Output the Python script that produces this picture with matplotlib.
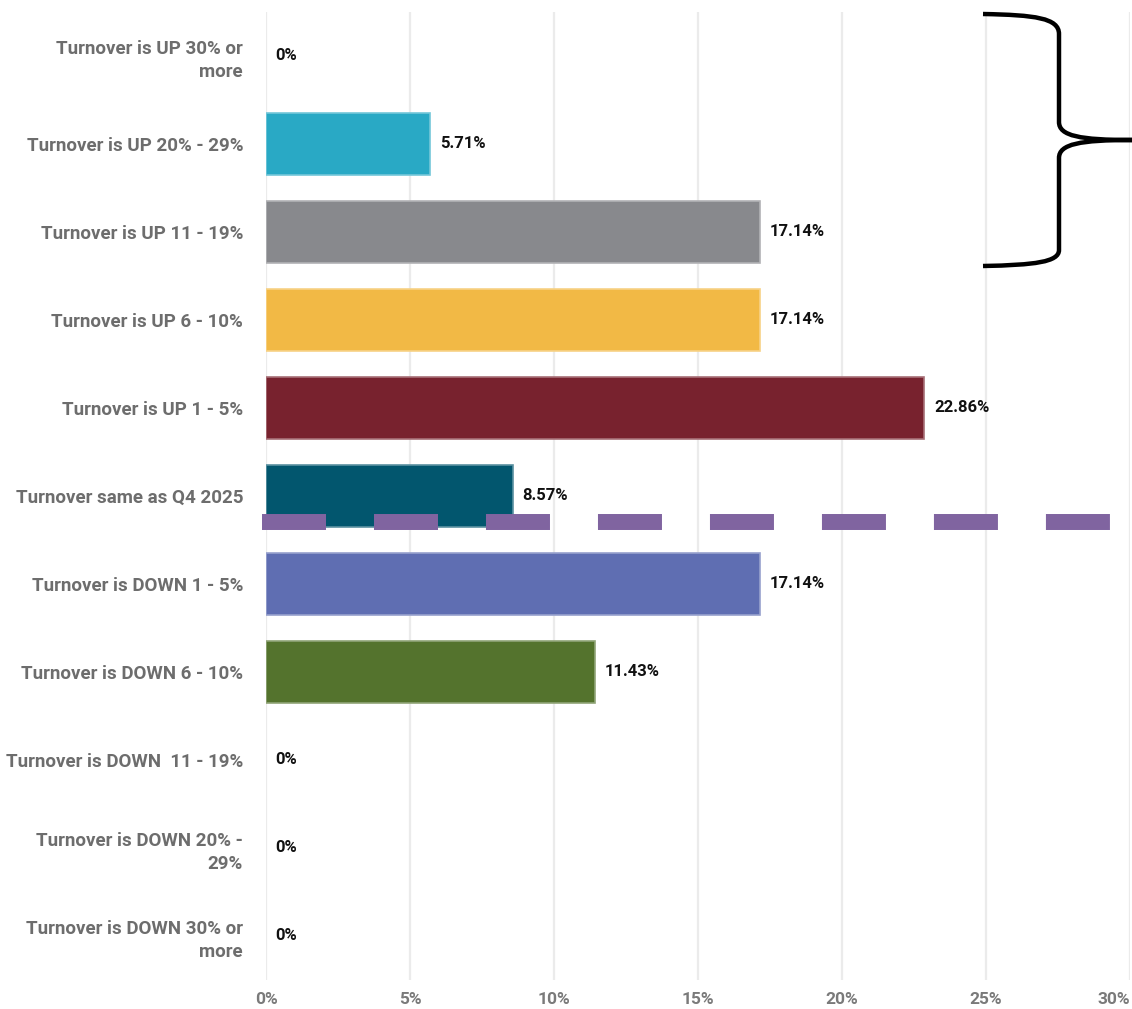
import matplotlib
matplotlib.use("Agg")
import matplotlib.pyplot as plt
from matplotlib.path import Path
from matplotlib.patches import PathPatch
import matplotlib.colors as mcolors

categories = [
    "Turnover is UP 30% or\nmore",
    "Turnover is UP 20% - 29%",
    "Turnover is UP 11 - 19%",
    "Turnover is UP 6 - 10%",
    "Turnover is UP 1 - 5%",
    "Turnover same as Q4 2025",
    "Turnover is DOWN 1 - 5%",
    "Turnover is DOWN 6 - 10%",
    "Turnover is DOWN  11 - 19%",
    "Turnover is DOWN 20% -\n29%",
    "Turnover is DOWN 30% or\nmore",
]
values = [0, 5.71, 17.14, 17.14, 22.86, 8.57, 17.14, 11.43, 0, 0, 0]
value_labels = ["0%", "5.71%", "17.14%", "17.14%", "22.86%", "8.57%", "17.14%", "11.43%", "0%", "0%", "0%"]
colors = ["#29a9c5", "#29a9c5", "#88898d", "#f2b945", "#78222e", "#02566e",
          "#5f6eb2", "#54732d", "#88898d", "#88898d", "#88898d"]
xticks = [0, 5, 10, 15, 20, 25, 30]
xtick_labels = ["0%", "5%", "10%", "15%", "20%", "25%", "30%"]

W, H = 1132, 1009
fig = plt.figure(figsize=(W / 100, H / 100), dpi=100)
ax = fig.add_axes([266 / W, 1 - 980 / H, (1130 - 266) / W, 968 / H])

FONT = "Roboto"


def lighten(c, f=0.35):
    r, g, b = mcolors.to_rgb(c)
    return (r + (1 - r) * f, g + (1 - g) * f, b + (1 - b) * f)


ypos = list(range(len(categories)))
edge = [lighten(c) if v > 0 else "none" for c, v in zip(colors, values)]
ax.barh(ypos, values, height=0.7, color=colors, edgecolor=edge, linewidth=1.2, zorder=3)
ax.set_ylim(len(categories) - 0.5, -0.5)
ax.set_xlim(0, 30)
ax.set_xticks(xticks)
ax.set_xticklabels(xtick_labels, fontsize=12.5, color="#7a7a7a", family=FONT, fontweight="bold")
ax.get_xticklabels()[-1].set_horizontalalignment("right")
ax.set_yticks(ypos)
ax.set_yticklabels(categories, fontsize=13.5, color="#6d6d6d", family=FONT, fontweight="bold",
                   linespacing=1.35)
ax.tick_params(axis="both", length=0)
ax.tick_params(axis="y", pad=16.5)
ax.tick_params(axis="x", pad=9)
for s in ax.spines.values():
    s.set_visible(False)
ax.grid(axis="x", color="#ebebeb", linewidth=1.6, zorder=0)
ax.set_axisbelow(True)

for y, v, lab in zip(ypos, values, value_labels):
    ax.annotate(lab, (v, y), xytext=(7, 0), textcoords="offset points",
                va="center", ha="left", fontsize=12, fontweight="bold",
                color="#111111", family=FONT)


def fx(px):
    return px / W


def fy(py):
    return 1 - py / H


# dashed separator line
lw = 11.5
line = plt.Line2D([fx(262), fx(1111)], [fy(522), fy(522)], transform=fig.transFigure,
                  color="#8064a0", linewidth=lw, solid_capstyle="butt", dash_capstyle="butt",
                  zorder=10)
line.set_linestyle((0, (64 / lw / 1.389, 48 / lw / 1.389)))
fig.add_artist(line)

# curly brace
pts = [
    (983, 14), (1035, 15), (1059, 18), (1059, 34),
    (1059, 122),
    (1059, 136), (1080, 140), (1132, 140),
    (1080, 140), (1059, 144), (1059, 158),
    (1059, 250),
    (1059, 262), (1035, 265), (983, 266),
]
codes = [Path.MOVETO, Path.CURVE4, Path.CURVE4, Path.CURVE4,
         Path.LINETO,
         Path.CURVE4, Path.CURVE4, Path.CURVE4,
         Path.CURVE4, Path.CURVE4, Path.CURVE4,
         Path.LINETO,
         Path.CURVE4, Path.CURVE4, Path.CURVE4]
verts = [(fx(x), fy(y)) for x, y in pts]
brace = PathPatch(Path(verts, codes), transform=fig.transFigure, facecolor="none",
                  edgecolor="black", linewidth=3.2, zorder=11, clip_on=False)
fig.add_artist(brace)

fig.savefig("out.png", dpi=100)
